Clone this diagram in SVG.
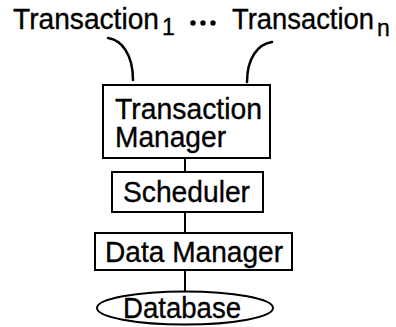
<svg xmlns="http://www.w3.org/2000/svg" width="396" height="327" viewBox="0 0 396 327">
  <style>
    .box { fill: #fff; stroke: #000; stroke-width: 2; }
    .lbl { font-family: "Liberation Sans", Arial, sans-serif; font-size: 30px; fill: #000; stroke: #000; stroke-width: 0.35; }
    .sub { font-family: "Liberation Sans", Arial, sans-serif; font-size: 23px; fill: #000; stroke: #000; stroke-width: 0.35; }
    .wire { fill: none; stroke: #000; stroke-width: 2; }
    .arc { fill: none; stroke: #000; stroke-width: 2.5; stroke-linecap: round; }
  </style>
  <rect width="396" height="327" fill="#fff"/>

  <!-- transaction labels -->
  <g id="transactions">
    <text class="lbl" x="13" y="29" textLength="146" lengthAdjust="spacingAndGlyphs">Transaction</text>
    <text class="sub" x="162" y="35">1</text>
    <circle cx="193" cy="23" r="2.7"/>
    <circle cx="203" cy="23" r="2.7"/>
    <circle cx="213" cy="23" r="2.7"/>
    <text class="lbl" x="232" y="29" textLength="142" lengthAdjust="spacingAndGlyphs">Transaction</text>
    <text class="sub" x="377" y="36">n</text>
  </g>

  <!-- connectors -->
  <g id="connectors">
    <path class="arc" d="M108,38 C122,40 133,55 133,80"/>
    <path class="arc" d="M272,42 C258,44 247,58 247,82"/>
    <line class="wire" x1="185" y1="158" x2="185" y2="172"/>
    <line class="wire" x1="185" y1="212" x2="185" y2="233"/>
    <line class="wire" x1="185" y1="270" x2="185" y2="292"/>
  </g>

  <g id="transaction-manager">
    <rect class="box" x="103" y="85" width="167" height="73"/>
    <text class="lbl" x="115" y="119" textLength="147" lengthAdjust="spacingAndGlyphs">Transaction</text>
    <text class="lbl" x="115" y="147" textLength="111" lengthAdjust="spacingAndGlyphs">Manager</text>
  </g>

  <g id="scheduler">
    <rect class="box" x="112" y="172" width="151" height="40"/>
    <text class="lbl" x="123" y="202" textLength="127" lengthAdjust="spacingAndGlyphs">Scheduler</text>
  </g>

  <g id="data-manager">
    <rect class="box" x="95" y="233" width="197" height="37"/>
    <text class="lbl" x="105" y="262" textLength="178" lengthAdjust="spacingAndGlyphs">Data Manager</text>
  </g>

  <g id="database">
    <ellipse class="box" cx="185" cy="308" rx="88" ry="16.5"/>
    <text class="lbl" x="123" y="318" textLength="118" lengthAdjust="spacingAndGlyphs">Database</text>
  </g>
</svg>
